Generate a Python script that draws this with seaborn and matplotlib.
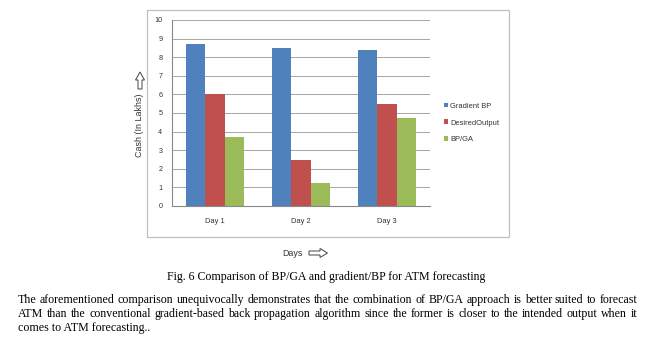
import matplotlib
matplotlib.use("Agg")
import matplotlib.pyplot as plt
import matplotlib.transforms as mtransforms
import seaborn as sns
import pandas as pd
import numpy as np
from matplotlib.patches import Rectangle, Patch, Polygon

days = ["Day 1", "Day 2", "Day 3"]
series = ["Gradient BP", "DesiredOutput", "BP/GA"]
gradient_bp = [8.7, 8.5, 8.4]
desired_output = [6.0, 2.45, 5.5]
bp_ga = [3.7, 1.25, 4.75]
yticks = [0, 1, 2, 3, 4, 5, 6, 7, 8, 9, 10]
colors = ["#4F81BD", "#C0504D", "#9BBB59"]

rows = []
for name, vals in zip(series, [gradient_bp, desired_output, bp_ga]):
    for d, v in zip(days, vals):
        rows.append({"Day": d, "Series": name, "Value": v})
df = pd.DataFrame(rows)

sns.set_theme(style="white")
plt.rcParams["font.family"] = ["Liberation Sans", "DejaVu Sans"]

W, H = 667, 350
fig = plt.figure(figsize=(W / 100, H / 100), dpi=100)
fig.patch.set_facecolor("white")
pix = mtransforms.Affine2D().scale(1 / 100) + fig.dpi_scale_trans

# outer chart border
fig.patches.append(Rectangle((147 / W, 1 - 237 / H), (509 - 147) / W, (237 - 10) / H,
                             transform=fig.transFigure, fill=False,
                             edgecolor="#c0c0c0", linewidth=0.9))

ax = fig.add_axes([172 / W, 1 - 206 / H, (430 - 172) / W, (206 - 20) / H])
sns.barplot(data=df, x="Day", y="Value", hue="Series", palette=colors,
            width=0.67, gap=0, saturation=1, ax=ax, legend=False, errorbar=None,
            linewidth=0, edgecolor="none")

ax.set_ylim(0, 10)
ax.set_xlim(-0.5, 2.5)
ax.set_yticks(yticks)
ax.set_yticklabels([str(t) for t in yticks], fontsize=5.2, color="#333333")
ax.set_yticks(np.arange(0, 10.01, 0.2), minor=True)
ax.set_xticks([0, 1, 2])
ax.set_xticklabels(days, fontsize=5.4, color="#333333")
ax.set_xticks([-0.5, 0.5, 1.5, 2.5], minor=True)
ax.tick_params(axis="x", which="major", length=0, pad=9)
ax.tick_params(axis="x", which="minor", length=3, width=0.7, color="#888888", direction="out")
ax.tick_params(axis="y", which="major", length=3, width=0.7, color="#888888", direction="out", pad=4)
ax.tick_params(axis="y", which="minor", length=1.2, width=0.5, color="#999999", direction="out")
ax.yaxis.grid(True, color="#a6a6a6", linewidth=0.7)
ax.set_axisbelow(True)
for s in ["top", "right"]:
    ax.spines[s].set_visible(False)
for s in ["left", "bottom"]:
    ax.spines[s].set_color("#888888")
    ax.spines[s].set_linewidth(0.8)
ax.set_xlabel("")
ax.set_ylabel("")

fig.text(140 / W, 1 - 125.5 / H, "Cash (In Lakhs)", rotation=90, ha="center", va="center",
         fontsize=6.4, color="#333333")
fig.text(292.5 / W, 1 - 253 / H, "Days", ha="center", va="center",
         fontsize=6.4, color="#333333")

# hollow arrows (pixel coordinates, y measured from top)
def arrow_pts(pts):
    return [(x, H - y) for x, y in pts]

right_arrow = [(309, 251), (320, 251), (320, 248.5), (327.5, 253), (320, 257.5), (320, 255), (309, 255)]
up_arrow = [(138, 89), (138, 80), (135.5, 80), (140, 72), (144.5, 80), (142, 80), (142, 89)]
for pts in (right_arrow, up_arrow):
    fig.patches.append(Polygon(arrow_pts(pts), closed=True, fill=False, edgecolor="#444444",
                               linewidth=0.7, transform=pix))

handles = [Patch(facecolor=c, edgecolor="none") for c in colors]
fig.legend(handles, series, loc="center left", bbox_to_anchor=(440 / W, 1 - 123 / H),
           frameon=False, fontsize=5.4, handlelength=0.6, handleheight=0.6,
           handletextpad=0.3, labelspacing=1.3, borderpad=0, labelcolor="#333333")

serif = ["Liberation Serif", "DejaVu Serif"]
fig.text(326 / W, 1 - 277 / H, "Fig. 6 Comparison of BP/GA and gradient/BP for ATM forecasting",
         ha="center", va="center", fontsize=8.6, family=serif, color="black")

lines = [
    "The aforementioned comparison unequivocally demonstrates that the combination of BP/GA approach is better suited to forecast",
    "ATM than the conventional gradient-based back propagation algorithm since the former is closer to the intended output when it",
    "comes to ATM forecasting..",
]
ys = [300, 314, 328]
x0, x1 = 18 / W, 637 / W
fig.canvas.draw()
renderer = fig.canvas.get_renderer()
for i, (line, y) in enumerate(zip(lines, ys)):
    yf = 1 - y / H
    if i < 2:
        words = line.split(" ")
        texts = [fig.text(0, yf, w, ha="left", va="center", fontsize=8.6, family=serif, color="black")
                 for w in words]
        widths = [t.get_window_extent(renderer).width / W for t in texts]
        gap = (x1 - x0 - sum(widths)) / (len(words) - 1)
        x = x0
        for t, w in zip(texts, widths):
            t.set_x(x)
            x += w + gap
    else:
        fig.text(x0, yf, line, ha="left", va="center", fontsize=8.6, family=serif, color="black")

fig.savefig("out.png", dpi=100, facecolor="white")
